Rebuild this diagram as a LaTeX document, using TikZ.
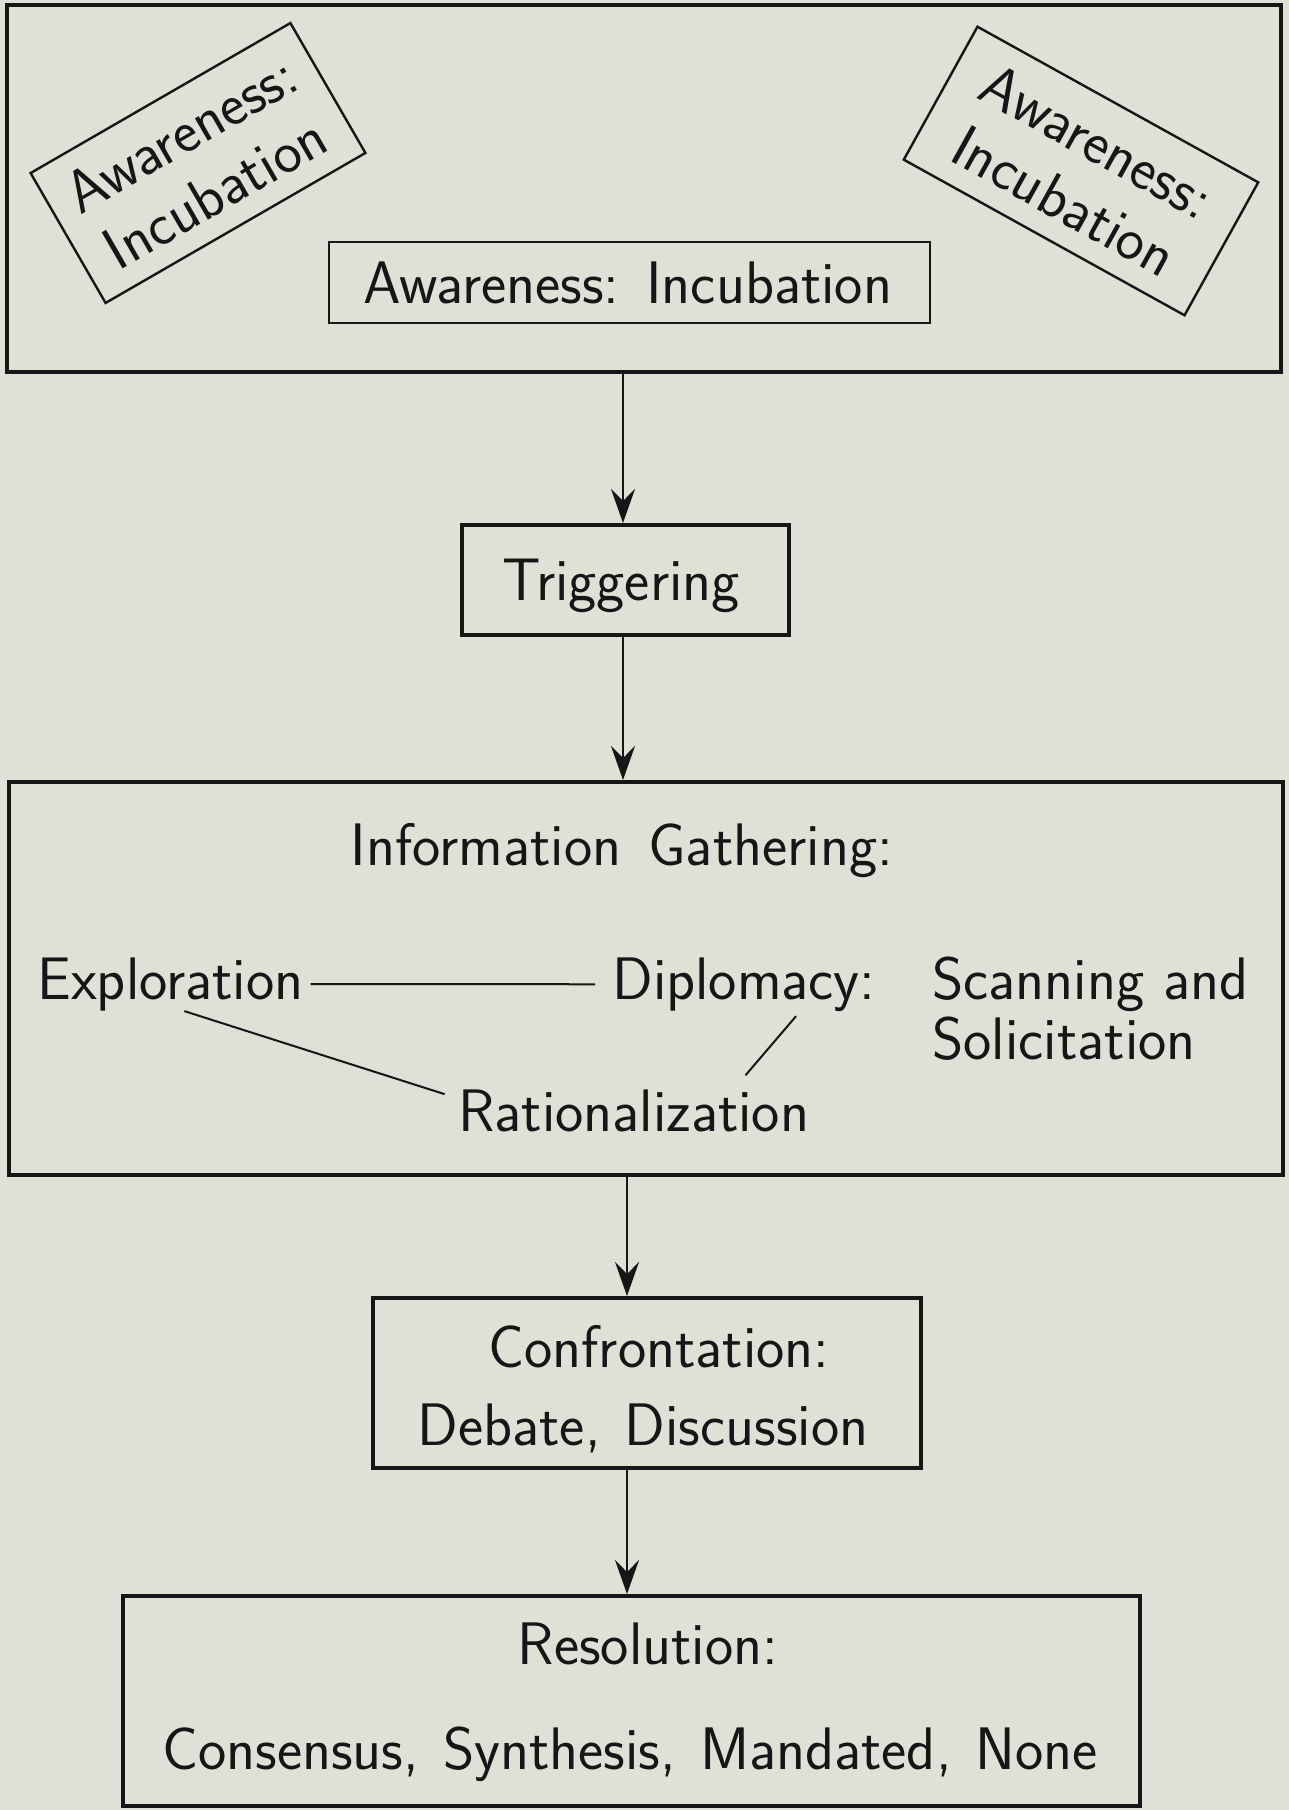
\documentclass[tikz,border=0pt]{standalone}
\usetikzlibrary{arrows.meta}
\definecolor{bg}{RGB}{223,225,214}
\definecolor{ink}{RGB}{22,22,22}
\begin{document}
\begin{tikzpicture}[x=0.5pt,y=-0.5pt,
  txt/.style={font=\sffamily\fontsize{30}{34}\selectfont, text=ink, inner sep=0pt},
  frame/.style={draw=ink, line width=2pt, inner sep=0pt},
  thinframe/.style={draw=ink, line width=1.2pt, inner sep=0pt},
  arr/.style={draw=ink, line width=1pt, -{Stealth[length=17pt,width=12pt,inset=6pt]}},
  link/.style={draw=ink, line width=1pt}]
\useasboundingbox[fill=bg] (0,0) rectangle (1289,1810);

% boxes
\node[frame, minimum width=637pt, minimum height=183.5pt] (top) at (644,188.5) {};
\node[thinframe, minimum width=300.5pt, minimum height=40.5pt] (awc) at (629.5,282.5) {};
\node[txt, thinframe, rotate=30, minimum width=150pt, minimum height=75pt, align=center] (awl) at (198,163) {Awareness:\\Incubation};
\node[txt, thinframe, rotate=-29, minimum width=160.5pt, minimum height=76pt, align=center] (awr) at (1081,171) {Awareness:\\Incubation};
\node[frame, minimum width=163.5pt, minimum height=55pt] (trig) at (625.5,580) {};
\node[frame, minimum width=637pt, minimum height=196.5pt] (info) at (646,978.5) {};
\node[frame, minimum width=274pt, minimum height=85pt] (conf) at (647,1383) {};
\node[frame, minimum width=508.5pt, minimum height=105pt] (res) at (631.5,1701) {};

% texts
\node[txt, anchor=base] (awct) at (628,303.5) {Awareness:\hspace{0.45em}Incubation};
\node[txt, anchor=base] (trigt) at (621,600) {Triggering};
\node[txt, anchor=base] (infot) at (622,865.5) {Information\hspace{0.45em}Gathering:};
\node[txt, anchor=base west] (ex) at (37,999) {Exploration};
\node[txt, anchor=base west] (di) at (612,999) {Diplomacy:};
\node[txt, font=\sffamily\fontsize{30}{30}\selectfont, anchor=base west, align=left] (sc) at (932,1059) {Scanning and\\Solicitation};
\node[txt, anchor=base west] (ra) at (458,1131) {Rationalization};
\node[txt, anchor=base] (conft) at (659,1367) {Confrontation:};
\node[txt, anchor=base] (debt) at (643,1445) {Debate,\hspace{0.4em}Discussion};
\node[txt, anchor=base] (rest) at (648,1664) {Resolution:};
\node[txt, anchor=base] (cons) at (630,1769) {Consensus,\hspace{0.4em}Synthesis,\hspace{0.4em}Mandated,\hspace{0.4em}None};

% links inside information gathering
\draw[link, shorten <=3.5pt, shorten >=8.5pt] (ex.east) -- (di.west);
\draw[link, shorten >=7pt] ([xshift=7pt]ex.south) -- ([yshift=6pt]ra.west);
\draw[link, shorten <=3pt, shorten >=9pt] ([xshift=28pt]di.south) -- ([xshift=50pt]ra.north);

% arrows
\coordinate (c1) at (623,0);
\coordinate (c3) at (627,0);
\draw[arr] (top.south -| c1) -- (trig.north -| c1);
\draw[arr] (trig.south -| c1) -- (info.north -| c1);
\draw[arr] (info.south -| c3) -- (conf.north -| c3);
\draw[arr] (conf.south -| c3) -- (res.north -| c3);
\end{tikzpicture}
\end{document}
